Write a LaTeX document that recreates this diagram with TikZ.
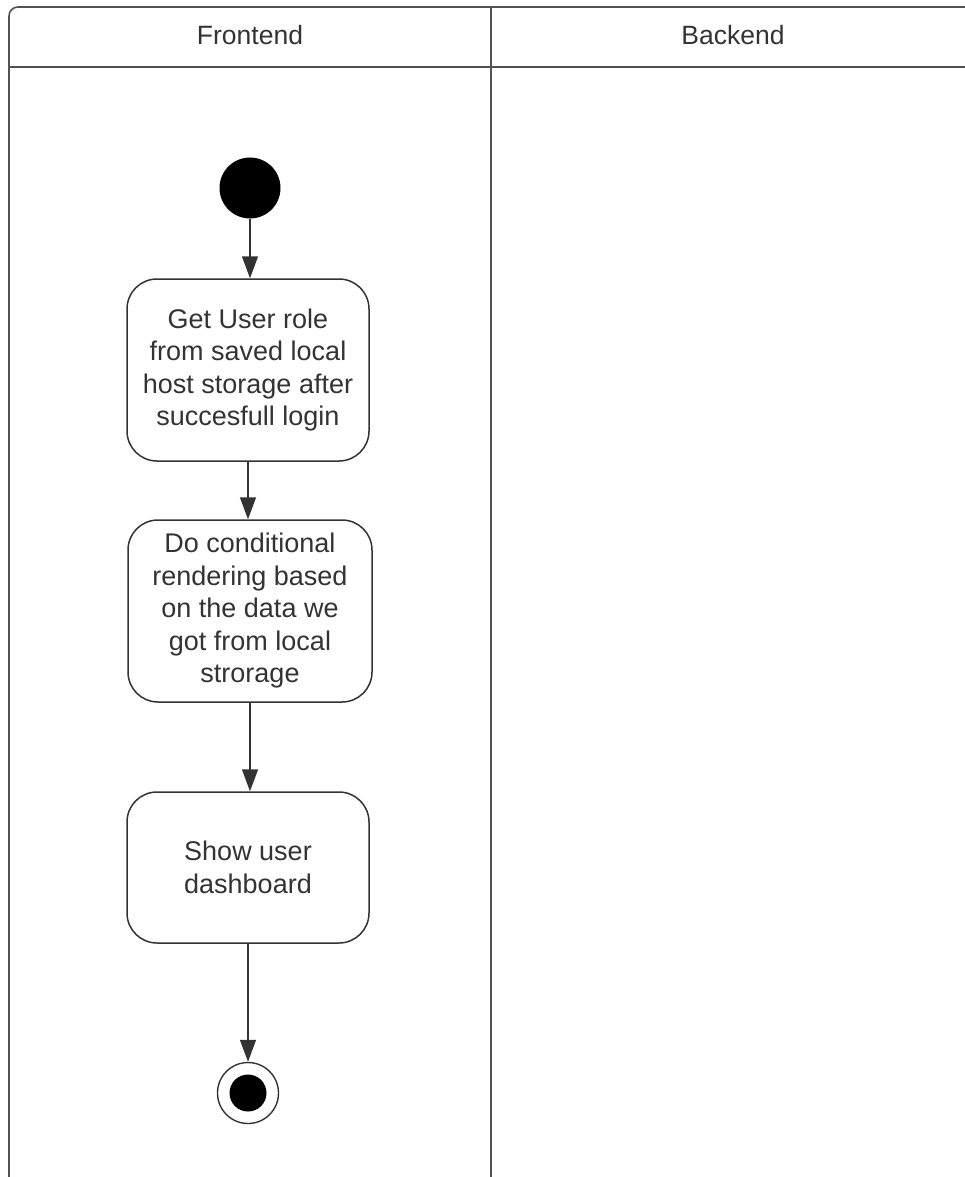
\documentclass[tikz,border=0pt]{standalone}
\usepackage{fontspec}
\setmainfont{Liberation Sans}
\usetikzlibrary{arrows.meta}
\definecolor{ink}{HTML}{333333}
\begin{document}
\begin{tikzpicture}[x=1pt,y=-1pt,
  lane/.style={draw=ink!85, line width=1.6pt},
  head/.style={text=ink, font=\fontsize{26.5}{31}\selectfont},
  action/.style={draw=ink, line width=1.5pt, rounded corners=30pt,
    align=center, text=ink, font=\fontsize{27}{32.5}\selectfont,
    inner sep=0pt},
  initial/.style={circle, fill=black, minimum size=61pt, inner sep=0pt},
  final/.style={circle, draw=ink, line width=1.4pt, minimum size=61pt, inner sep=0pt},
  flow/.style={draw=ink, line width=1.5pt, -{Triangle[length=22pt,width=16pt]}}]
\useasboundingbox (0,0) rectangle (965,1177);

% swimlane frame
\draw[lane, rounded corners=9pt] (9,1177) -- (9,7) -- (965,7);
\draw[lane] (9,67) -- (965,67);
\draw[lane] (491,7) -- (491,1177);
\node[head] (hfront) at (250,35) {Frontend};
\node[head] (hback) at (733,35) {Backend};

% activity flow
\node[initial] (start) at (250,188) {};
\node[action, minimum width=242pt, minimum height=182pt] (getrole) at (248,370)
  {Get User role\\from saved local\\host storage after\\succesfull login};
\node[action, minimum width=244pt, minimum height=182pt] (render) at (250,611)
  {Do conditional\\rendering based\\on the data we\\got from local\\strorage};
\node[action, minimum width=242pt, minimum height=151pt] (dash) at (248,867.5)
  {Show user\\dashboard};
\node[final] (stop) at (248,1093) {};
\fill[black] (stop) circle[radius=18.5];

\draw[flow] (start.south) -- (start.south |- getrole.north);
\draw[flow] (getrole.south) -- (getrole.south |- render.north);
\draw[flow] (render.south) -- (render.south |- dash.north);
\draw[flow] (dash.south) -- (stop.north);
\end{tikzpicture}
\end{document}
